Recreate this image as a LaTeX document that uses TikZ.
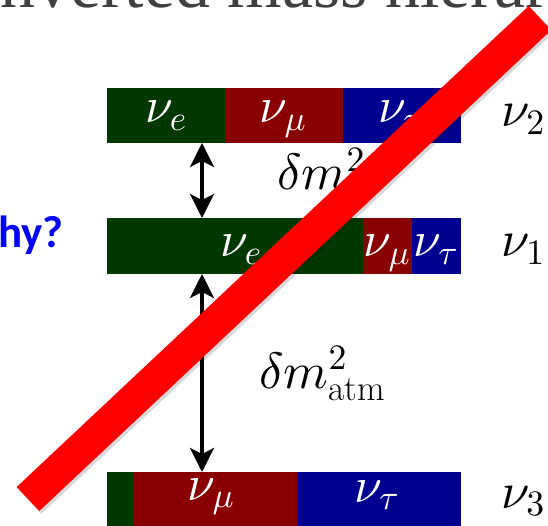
\documentclass[tikz,border=0pt]{standalone}
\usepackage{fontspec}
\DeclareFontShape{OML}{cmm}{m}{it}{<->cmmi10}{}
\DeclareFontShape{OT1}{cmr}{m}{n}{<->cmr10}{}
\DeclareFontShape{OMS}{cmsy}{m}{n}{<->cmsy10}{}
\newfontfamily\titlefont{Liberation Serif}
\newfontfamily\whyfont{Carlito}
\usetikzlibrary{arrows.meta}
\definecolor{grn}{RGB}{0,56,0}
\definecolor{rd}{RGB}{136,0,0}
\definecolor{bl}{RGB}{0,0,144}
\definecolor{ttl}{RGB}{64,64,64}
\definecolor{whyblue}{RGB}{0,0,255}
\definecolor{slash}{RGB}{255,0,0}
\begin{document}
\begin{tikzpicture}[x=1pt,y=-1pt,
 seg/.style={anchor=north west, inner sep=0pt, outer sep=0pt, minimum height=55pt},
 lab/.style={anchor=base, inner sep=0pt, text=white, font=\fontsize{50}{54}\selectfont},
 mlab/.style={anchor=base west, inner sep=0pt, font=\fontsize{51}{55}\selectfont},
 dbl/.style={line width=3.5pt, {Stealth[length=24pt,width=24pt,inset=6pt]}-{Stealth[length=24pt,width=24pt,inset=6pt]}}]
\useasboundingbox (0,0) rectangle (548,526);
\clip (0,0) rectangle (548,526);
% bars
\node[seg, fill=grn, minimum width=118pt] (b2e) at (107,88) {};
\node[seg, fill=rd, minimum width=118pt] (b2m) at (225,88) {};
\node[seg, fill=bl, minimum width=118pt] (b2t) at (343,88) {};
\node[seg, fill=grn, minimum width=256pt, minimum height=56pt] (b1e) at (107,218) {};
\node[seg, fill=rd, minimum width=49pt, minimum height=56pt] (b1m) at (363,218) {};
\node[seg, fill=bl, minimum width=49pt, minimum height=56pt] (b1t) at (412,218) {};
\node[seg, fill=grn, minimum width=26pt] (b3e) at (107,472) {};
\node[seg, fill=rd, minimum width=164pt] (b3m) at (133,472) {};
\node[seg, fill=bl, minimum width=164pt] (b3t) at (297,472) {};
% labels in bars
\node[lab] (l2e) at (166,123) {$\nu_e$};
\node[lab] (l2m) at (283,123) {$\nu_\mu$};
\node[lab] (l2t) at (401,123) {$\nu_\tau$};
\node[lab] (l1e) at (241,257) {$\nu_e$};
\node[lab] (l1m) at (387,257) {$\nu_\mu$};
\node[lab] (l1t) at (436,257) {$\nu_\tau$};
\node[lab] (l3m) at (211,500) {$\nu_\mu$};
\node[lab] (l3t) at (377,502) {$\nu_\tau$};
% right labels
\node[mlab] (n2) at (501,127) {$\nu_2$};
\node[mlab] (n1) at (501,257) {$\nu_1$};
\node[mlab] (n3) at (501,508) {$\nu_3$};
% splittings
\node[mlab] (dsol) at (277,190) {$\delta m^2_\odot$};
\node[mlab] (datm) at (259,388) {$\delta m^2_{\mathrm{atm}}$};
% arrows
\coordinate (ax) at (202,0);
\draw[dbl] (b2e.south -| ax) -- (b1e.north -| ax);
\draw[dbl] (b1e.south -| ax) -- (b3m.north -| ax);
% title and why
\node[anchor=base west, inner sep=0pt, text=ttl, font=\titlefont\fontsize{70}{80}\selectfont] (title) at (-23,8) {Inverted mass hierarchy};
\node[anchor=base east, inner sep=0pt, text=whyblue, font=\whyfont\bfseries\fontsize{45}{50}\selectfont] (why) at (64,248) {Why?};
% slash
\coordinate (s1) at (28,499);
\coordinate (s2) at (540,18);
\draw[black, opacity=0.15, line width=33pt] ([shift={(2,3)}]s1) -- ([shift={(2,3)}]s2);
\draw[slash, line width=33pt] (s1) -- (s2);
\end{tikzpicture}
\end{document}
